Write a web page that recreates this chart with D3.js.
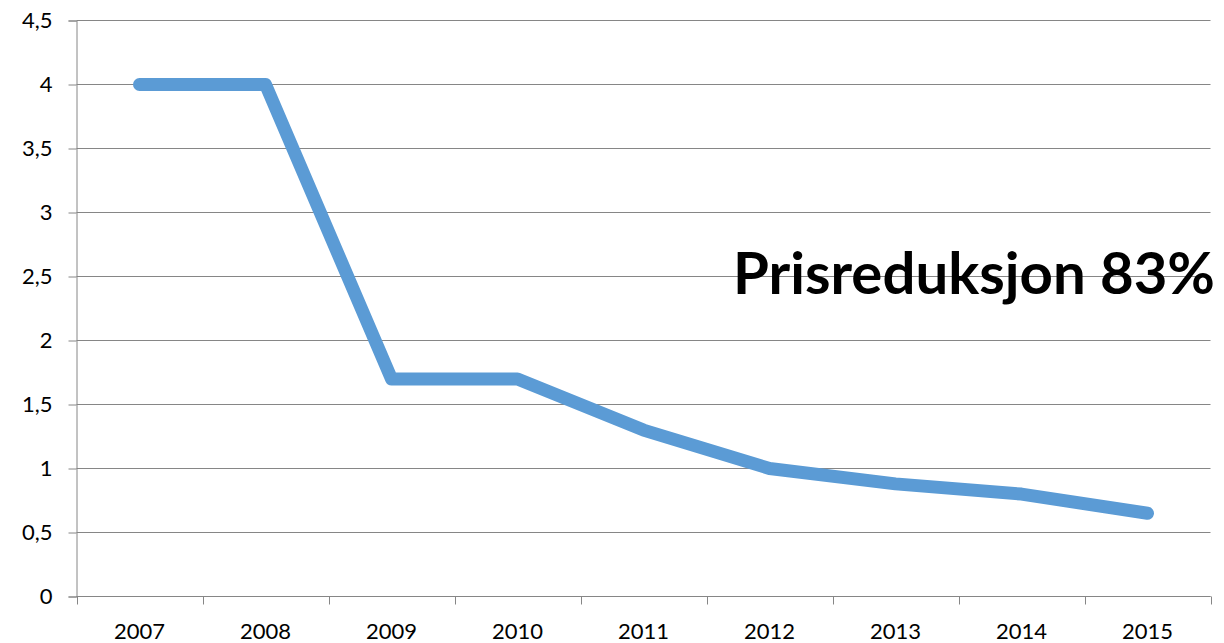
<!DOCTYPE html>
<html>
<head>
<meta charset="utf-8">
<script src="https://cdn.jsdelivr.net/npm/d3@7"></script>
<style>
	body { margin: 0; background: #fff; }
	svg text { font-family: Lato, "Open Sans", sans-serif; fill: #000; }
</style>
</head>
<body>
<svg id="chart" width="1224" height="643"></svg>
<script>
var years = ["2007", "2008", "2009", "2010", "2011", "2012", "2013", "2014", "2015"];
var prices = [4, 4, 1.7, 1.7, 1.3, 1.0, 0.88, 0.8, 0.65];
var yTicks = [0, 0.5, 1, 1.5, 2, 2.5, 3, 3.5, 4, 4.5];
var note = "Prisreduksjon 83%";

var svg = d3.select("#chart");

var x = d3.scaleBand()
	.domain(years)
	.range([76.5, 1210.5]);

var y = d3.scaleLinear()
	.domain([0, 4.5])
	.range([596.5, 20.5]);

// gridlines
svg.append("g")
	.selectAll("line")
	.data(yTicks)
	.enter()
	.append("line")
	.attr("x1", 76.5)
	.attr("x2", 1210.5)
	.attr("y1", function(d) { return y(d); })
	.attr("y2", function(d) { return y(d); })
	.attr("stroke", "#868686")
	.attr("stroke-width", 1);

// y axis
var yAxis = d3.axisLeft(y)
	.tickValues(yTicks)
	.tickSize(8)
	.tickPadding(16)
	.tickFormat(function(d) { return String(d).replace(".", ","); });

var gy = svg.append("g")
	.attr("transform", "translate(76.5,0)")
	.call(yAxis);
gy.select(".domain").attr("stroke", "#868686");
gy.selectAll(".tick line").attr("stroke", "#868686");
gy.selectAll(".tick text")
	.style("font-size", "22px")
	.attr("fill", "#000");

// x axis, ticks between categories
var bounds = years.map(function(d) { return x(d); });
bounds.push(x.range()[1]);

svg.append("line")
	.attr("x1", 76.5)
	.attr("x2", 1210.5)
	.attr("y1", y(0))
	.attr("y2", y(0))
	.attr("stroke", "#868686");

svg.append("g")
	.selectAll("line")
	.data(bounds)
	.enter()
	.append("line")
	.attr("x1", function(d) { return Math.round(d) + 0.5; })
	.attr("x2", function(d) { return Math.round(d) + 0.5; })
	.attr("y1", y(0))
	.attr("y2", y(0) + 8)
	.attr("stroke", "#868686");

svg.append("g")
	.selectAll("text")
	.data(years)
	.enter()
	.append("text")
	.attr("x", function(d) { return x(d) + x.bandwidth() / 2; })
	.attr("y", 639)
	.attr("text-anchor", "middle")
	.style("font-size", "22px")
	.text(function(d) { return d; });

// price line
var line = d3.line()
	.x(function(d, i) { return x(years[i]) + x.bandwidth() / 2; })
	.y(function(d) { return y(d); });

svg.append("path")
	.datum(prices)
	.attr("d", line)
	.attr("fill", "none")
	.attr("stroke", "#5B9BD5")
	.attr("stroke-width", 13)
	.attr("stroke-linecap", "round")
	.attr("stroke-linejoin", "round");

// annotation
svg.append("text")
	.attr("x", 733)
	.attr("y", 294)
	.attr("textLength", 482)
	.attr("lengthAdjust", "spacingAndGlyphs")
	.style("font-size", "58px")
	.style("font-weight", "bold")
	.text(note);
</script>
</body>
</html>
